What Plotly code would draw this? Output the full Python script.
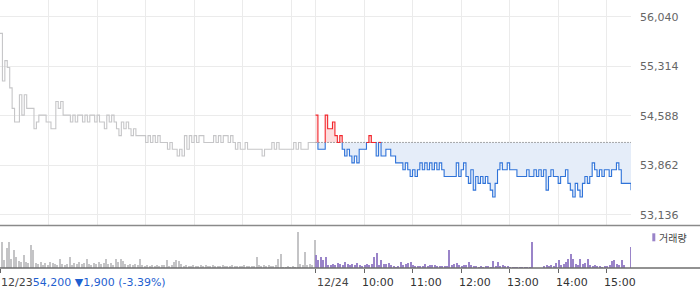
import plotly.graph_objects as go

# ---------------- data ----------------
PREV_CLOSE = 54200  # reference (previous close) for 12/24

# session minutes (3-minute samples), day 1 = 12/23, day 2 = 12/24
day1_minutes = list(range(0, 391, 3))
day2_minutes = list(range(390, 781, 3))

day1_price = [
    55800, 55100, 55400, 55300, 55000, 54700, 54500, 54500, 54900, 54600,
    54900, 54700, 54700, 54700, 54400, 54500, 54600, 54600, 54600, 54500,
    54500, 54400, 54400, 54800, 54700, 54800, 54600, 54600, 54600,
    54500, 54600, 54500, 54600, 54600, 54500, 54600, 54500, 54600, 54600, 54500, 54600, 54500,
    54500, 54400, 54600, 54500, 54600, 54500, 54400, 54300, 54500, 54400,
    54500, 54400, 54300, 54400, 54300, 54300, 54300, 54300,
    54200, 54300, 54200, 54300, 54200, 54300, 54200, 54200, 54200, 54100,
    54200, 54100, 54100, 54000, 54100, 54000, 54300, 54100, 54300, 54200,
    54300, 54200, 54300, 54300, 54200, 54200, 54200, 54200,
    54300, 54200, 54300, 54200, 54300, 54300, 54200, 54300, 54200, 54100,
    54200, 54100, 54100, 54200, 54100, 54100, 54100, 54100, 54100, 54100,
    54000, 54100, 54100, 54100, 54200, 54100, 54200, 54100, 54100, 54100,
    54100, 54100, 54100, 54200, 54100, 54200, 54100, 54100, 54100, 54200,
    54200, 54200, 54200,
]

day2_price = [
    54600, 54100, 54100, 54100, 54600, 54400, 54400, 54500, 54300, 54200,
    54300, 54100, 54000, 54100, 54000, 53900, 54000, 53900, 54100, 54100,
    54100, 54200, 54300, 54200, 54200, 54000, 54200, 54000, 54000, 54100,
    54100, 54000, 54000, 53900, 53900, 53900, 53800, 53900, 53800, 53700,
    53800, 53700, 53800, 53900, 53800, 53900, 53800, 53900, 53800, 53900,
    53800, 53900, 53800, 53700, 53700, 53700, 53700, 53700, 53900, 53700,
    53800, 53900, 53700, 53600, 53800, 53500, 53700, 53600, 53700, 53600,
    53700, 53600, 53500, 53400, 53600, 53800, 53900, 53800, 53800, 53900,
    53800, 53800, 53800, 53700, 53700, 53700, 53700, 53800, 53700, 53700,
    53800, 53700, 53800, 53700, 53800, 53500, 53700, 53800, 53700, 53700,
    53600, 53700, 53700, 53800, 53600, 53500, 53400, 53600, 53500, 53400,
    53600, 53700, 53600, 53700, 53900, 53800, 53700, 53800, 53700, 53800,
    53800, 53700, 53800, 53800, 53900, 53800, 53600, 53600, 53600, 53600,
    53500,
]

day1_volume = [
    16, 26, 8, 20, 26, 9, 18, 11, 7, 6, 13, 6, 5, 23, 18, 5, 4, 6, 3, 5,
    3, 6, 5, 4, 3, 9, 4, 3, 4, 11, 3, 5, 4, 6, 4, 5, 9, 4, 3, 5,
    4, 6, 4, 5, 9, 4, 5, 3, 9, 6, 9, 7, 4, 3, 4, 3, 4, 3, 9, 3,
    2, 3, 2, 3, 2, 3, 2, 3, 3, 8, 2, 3, 6, 8, 7, 4, 2, 3, 2, 2,
    3, 2, 2, 3, 2, 3, 2, 2, 3, 2, 2, 2, 3, 2, 2, 2, 3, 2, 2, 2,
    2, 3, 2, 2, 2, 2, 11, 3, 2, 3, 2, 3, 2, 2, 3, 9, 14, 1, 1, 2,
    1, 2, 1, 36, 4, 3, 16, 3, 4, 3, 28,
]

day2_volume = [
    13, 8, 11, 8, 11, 3, 3, 4, 3, 5, 4, 3, 6, 4, 3, 4, 3, 5, 3, 2,
    3, 4, 3, 4, 11, 15, 3, 8, 4, 4, 5, 3, 2, 1, 2, 6, 3, 4, 5, 6,
    3, 2, 2, 2, 2, 4, 2, 3, 3, 3, 2, 2, 2, 2, 2, 18, 3, 4, 5, 3,
    2, 3, 3, 6, 3, 2, 2, 1, 2, 1, 2, 2, 1, 7, 2, 6, 2, 3, 2, 2,
    1, 1, 1, 1, 1, 1, 1, 1, 1, 26, 0, 0, 0, 0, 2, 3, 2, 3, 2, 5,
    8, 3, 4, 6, 9, 14, 9, 4, 3, 9, 4, 5, 9, 3, 2, 3, 2, 2, 1, 2,
    2, 3, 7, 8, 4, 3, 8, 3, 0, 0, 21,
]

price_ticks = [53136, 53862, 54588, 55314, 56040]
hour_ticks = [450, 510, 570, 630, 690, 750]
hour_labels = ["10:00", "11:00", "12:00", "13:00", "14:00", "15:00"]
grid_minutes = [60, 120, 180, 240, 300, 360, 390, 450, 510, 570, 630, 690, 750]
day1_label = "12/23"
day2_label = "12/24"
summary_text = "54,200 ▼1,900 (-3.39%)"
volume_label = "거래량"

# ---------------- helpers ----------------
def step_path(xs, ys):
    X, Y = [xs[0]], [ys[0]]
    for k in range(1, len(xs)):
        X += [xs[k], xs[k]]
        Y += [ys[k - 1], ys[k]]
    return X, Y


def split_at(X, Y, base):
    PX, PY = [X[0]], [Y[0]]
    for k in range(1, len(X)):
        ya, yb = Y[k - 1], Y[k]
        if (ya - base) * (yb - base) < 0:
            xa, xb = X[k - 1], X[k]
            xc = xa + (base - ya) / (yb - ya) * (xb - xa)
            PX.append(xc)
            PY.append(base)
        PX.append(X[k])
        PY.append(Y[k])
    return PX, PY


X1, Y1 = step_path(day1_minutes, day1_price)
X2, Y2 = split_at(*step_path(day2_minutes, day2_price), PREV_CLOSE)

up_fill = [max(y, PREV_CLOSE) for y in Y2]
dn_fill = [min(y, PREV_CLOSE) for y in Y2]
red_line = [y if y >= PREV_CLOSE else None for y in Y2]
blue_line = [y if y <= PREV_CLOSE else None for y in Y2]
base_line = [PREV_CLOSE] * len(X2)

FONT = "DejaVu Sans"
fig = go.Figure()

# fills
fig.add_trace(go.Scatter(x=X2, y=base_line, mode="lines", line=dict(width=0), hoverinfo="skip"))
fig.add_trace(go.Scatter(x=X2, y=up_fill, mode="lines", line=dict(width=0), fill="tonexty",
                         fillcolor="#fcdede", hoverinfo="skip"))
fig.add_trace(go.Scatter(x=X2, y=base_line, mode="lines", line=dict(width=0), hoverinfo="skip"))
fig.add_trace(go.Scatter(x=X2, y=dn_fill, mode="lines", line=dict(width=0), fill="tonexty",
                         fillcolor="#e5edf9", hoverinfo="skip"))
# dotted previous close
fig.add_trace(go.Scatter(x=[day2_minutes[0], day2_minutes[-1]], y=[PREV_CLOSE, PREV_CLOSE],
                         mode="lines", line=dict(color="#555555", width=1, dash="1px,2px")))
# price lines
fig.add_trace(go.Scatter(x=X1, y=Y1, mode="lines", line=dict(color="#c6c6c8", width=1.1)))
fig.add_trace(go.Scatter(x=X2, y=blue_line, mode="lines", line=dict(color="#2f73d9", width=1.1)))
fig.add_trace(go.Scatter(x=X2, y=red_line, mode="lines", line=dict(color="#f3262c", width=1.1)))

# volume
fig.add_trace(go.Bar(x=day1_minutes, y=day1_volume, width=1.6, marker=dict(color="#c4c4c6", line=dict(width=0)),
                     xaxis="x2", yaxis="y2"))
fig.add_trace(go.Bar(x=day2_minutes, y=day2_volume, width=1.6, marker=dict(color="#9a84c9", line=dict(width=0)),
                     xaxis="x2", yaxis="y2"))

PH = 268.0  # plot height in px
LABEL_Y = -14.5 / PH
annotations = [
    dict(text=f"{day1_label}<span style='color:#1f5fd0'>{summary_text}</span>", xref="paper",
         yref="paper", x=0, y=LABEL_Y, xanchor="left", yanchor="middle", showarrow=False,
         xshift=-1, font=dict(family=FONT, size=11, color="#444444")),
    dict(text=day2_label, xref="x2", yref="paper", x=390, y=LABEL_Y, xanchor="left",
         yanchor="middle", showarrow=False, xshift=-0.5, font=dict(family=FONT, size=11, color="#444444")),
    dict(text=volume_label, xref="paper", yref="paper", x=657 / 631, y=(PH - 237.5) / PH,
         xanchor="left", yanchor="middle", showarrow=False,
         font=dict(family="Noto Sans CJK KR", size=10, color="#444444")),
]
for t, lab in zip(hour_ticks, hour_labels):
    annotations.append(dict(text=lab, xref="x2", yref="paper", x=t, y=LABEL_Y, xanchor="left",
                            yanchor="middle", showarrow=False, xshift=-4.5,
                            font=dict(family=FONT, size=11, color="#333333")))

fig.update_layout(
    width=700, height=289,
    margin=dict(l=0, r=69, t=0, b=21),
    plot_bgcolor="white", paper_bgcolor="white",
    showlegend=False, bargap=0,
    xaxis=dict(domain=[0, 1], range=[0, 780], anchor="y", tickvals=grid_minutes,
               showticklabels=False, showgrid=True, gridcolor="#ebebeb", gridwidth=1,
               zeroline=False, showline=False, ticks=""),
    xaxis2=dict(domain=[0, 1], matches="x", anchor="y2", tickvals=[0, 390] + hour_ticks,
                showticklabels=False, ticks="outside", ticklen=4, tickcolor="#666666",
                showgrid=False, zeroline=False, showline=False),
    yaxis=dict(domain=[(PH - 225) / PH, 1], range=[52989, 56289], side="right", anchor="x",
               tickvals=price_ticks, ticktext=[f"{v:,}" for v in price_ticks],
               showgrid=True, gridcolor="#ebebeb", zeroline=False, ticks="",
               ticklabelstandoff=8, tickfont=dict(family=FONT, size=11, color="#666666")),
    yaxis2=dict(domain=[0, (PH - 226) / PH], range=[0, 42], anchor="x2",
                showticklabels=False, showgrid=False, zeroline=False),
    shapes=[
        dict(type="line", xref="paper", yref="paper", x0=0, x1=700 / 631, y0=(PH - 225.5) / PH,
             y1=(PH - 225.5) / PH, line=dict(color="#8a8a8a", width=1.5)),
        dict(type="line", xref="paper", yref="paper", x0=0, x1=700 / 631, y0=0, y1=0,
             line=dict(color="#6e6e6e", width=1.5)),
        dict(type="rect", xref="paper", yref="paper", x0=652.3 / 631, x1=655.3 / 631,
             y0=(PH - 241.3) / PH, y1=(PH - 233.3) / PH, line=dict(width=0), fillcolor="#9a84c9"),
    ],
    annotations=annotations,
)

fig.write_html("out.html")
